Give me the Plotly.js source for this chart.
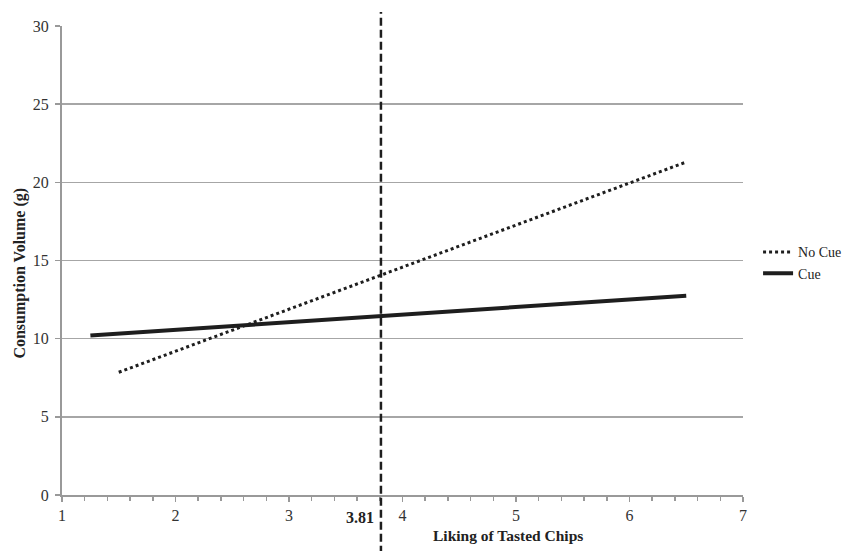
<!DOCTYPE html>
<html>
<head>
<meta charset="utf-8">
<script src="https://cdn.plot.ly/plotly-3.0.1.min.js"></script>
<style>html,body{margin:0;padding:0;background:#fff;}#chart{width:847px;height:551px;}</style>
</head>
<body>
<div id="chart"></div>
<script>
const seriesNames = ["No Cue", "Cue"];
const noCueX = [1.5, 6.5];
const noCueY = [7.85, 21.3];
const cueX = [1.25, 6.5];
const cueY = [10.2, 12.75];
const meanLiking = 3.81;
const xTickVals = [1, 2, 3, 4, 5, 6, 7];
const yTickVals = [0, 5, 10, 15, 20, 25, 30];
const xTitle = "Liking of Tasted Chips";
const yTitle = "Consumption Volume (g)";

const serif = "Liberation Serif";

const traces = [
  {x: noCueX, y: noCueY, name: seriesNames[0], mode: "lines",
   line: {color: "#1e1e1e", width: 3, dash: "dot"}},
  {x: cueX, y: cueY, name: seriesNames[1], mode: "lines",
   line: {color: "#1e1e1e", width: 4}}
];

const layout = {
  width: 847, height: 551,
  margin: {l: 62, r: 104, t: 26, b: 56},
  paper_bgcolor: "#fff", plot_bgcolor: "#fff",
  font: {family: serif, size: 16, color: "#333"},
  showlegend: true,
  legend: {xref: "container", yref: "container", x: 0.895, xanchor: "left", y: 0.523, yanchor: "middle",
           font: {family: serif, size: 14, color: "#222"},
           itemwidth: 30, tracegroupgap: 0, bgcolor: "rgba(0,0,0,0)", borderwidth: 0},
  xaxis: {
    range: [1, 7], tickvals: xTickVals, ticktext: xTickVals.map(String),
    showgrid: false, zeroline: false,
    showline: true, linecolor: "#999", linewidth: 2,
    ticks: "outside", ticklen: 5, tickcolor: "#999", tickwidth: 1.5,
    minor: {dtick: 0.2, ticks: "outside", ticklen: 4, tickcolor: "#999", tickwidth: 1.5, showgrid: false},
    tickfont: {family: serif, size: 16, color: "#333"}
  },
  yaxis: {
    range: [0, 30], tickvals: yTickVals,
    showgrid: true, gridcolor: "#a6a6a6", gridwidth: 1.5,
    zeroline: false,
    showline: true, linecolor: "#999", linewidth: 2,
    ticks: "outside", ticklen: 5, tickcolor: "#999", tickwidth: 1.5,
    ticklabelstandoff: 3,
    tickfont: {family: serif, size: 16, color: "#333"}
  },
  shapes: [
    {type: "line", xref: "x", yref: "paper", x0: meanLiking, x1: meanLiking,
     y0: -0.125, y1: 1.03, line: {color: "#1e1e1e", width: 2.5, dash: "8px,4px"}}
  ],
  annotations: [
    {xref: "x", yref: "paper", x: meanLiking, y: -0.047, xanchor: "right", yanchor: "middle",
     xshift: -5, text: "<b>" + meanLiking.toFixed(2) + "</b>", showarrow: false,
     font: {family: serif, size: 16, color: "#222"}},
    {xref: "paper", yref: "paper", x: 0.655, y: -0.087, xanchor: "center", yanchor: "middle",
     text: "<b>" + xTitle + "</b>", showarrow: false,
     font: {family: serif, size: 15.5, color: "#222"}},
    {xref: "paper", yref: "paper", x: -0.061, y: 0.473, xanchor: "center", yanchor: "middle",
     textangle: -90, text: "<b>" + yTitle + "</b>", showarrow: false,
     font: {family: serif, size: 16, color: "#222"}}
  ]
};

Plotly.newPlot("chart", traces, layout, {displayModeBar: false, staticPlot: true});
</script>
</body>
</html>
